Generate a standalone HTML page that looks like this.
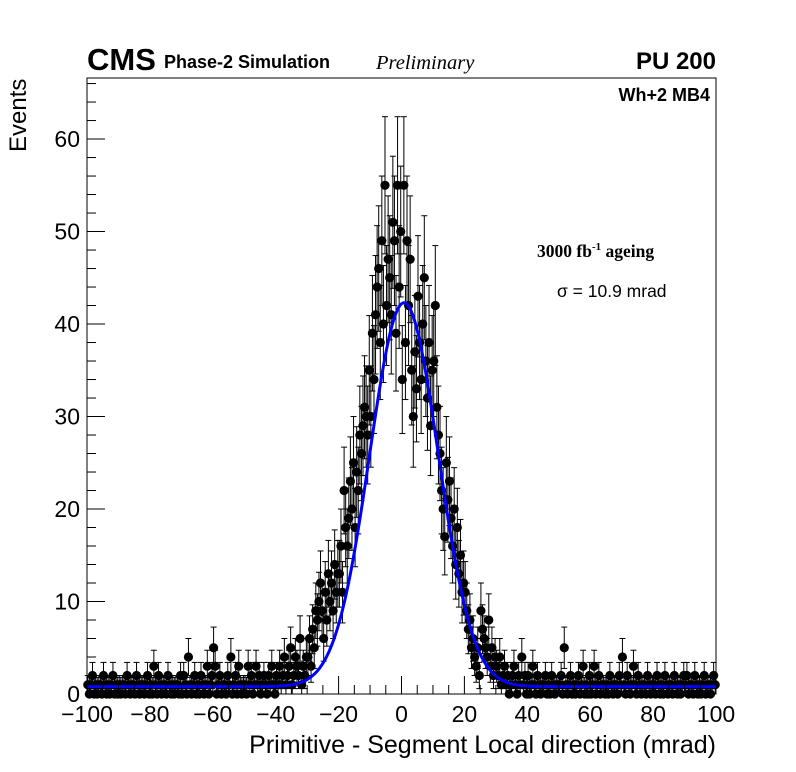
<!DOCTYPE html>
<html><head><meta charset="utf-8"><style>
html,body{margin:0;padding:0;background:#fff;}
svg{display:block;font-family:"Liberation Sans",sans-serif;}
</style></head><body>
<svg id="chart" width="796" height="772" viewBox="0 0 796 772">
<rect x="0" y="0" width="796" height="772" fill="#fff"/>
<g id="marks"></g>
<rect x="87" y="78" width="629" height="616" fill="none" stroke="#000" stroke-width="1"/>
<g id="axes"></g>
<text x="87" y="70" font-size="31" font-weight="bold">CMS</text>
<text x="164" y="68" font-size="18" font-weight="bold">Phase-2 Simulation</text>
<text x="376" y="69" font-size="20.5" font-style="italic" font-family="Liberation Serif, serif">Preliminary</text>
<text x="716" y="69" font-size="24" font-weight="bold" text-anchor="end">PU 200</text>
<text x="710" y="101" font-size="18" font-weight="bold" text-anchor="end">Wh+2 MB4</text>
<text x="537" y="257" font-size="17.5" font-weight="bold" font-family="Liberation Serif, serif">3000 fb<tspan dy="-7" font-size="11">-1</tspan><tspan dy="7"> ageing</tspan></text>
<text x="557" y="297" font-size="17.5">σ = 10.9 mrad</text>
<text x="716" y="753" font-size="25" text-anchor="end">Primitive - Segment Local direction (mrad)</text>
<text transform="translate(26,152) rotate(-90)" font-size="24">Events</text>
</svg>
<script>
const xTicks=[-100,-80,-60,-40,-20,0,20,40,60,80,100];
const xTickLabels=["\u2212100","\u221280","\u221260","\u221240","\u221220","0","20","40","60","80","100"];
const yTicks=[0,10,20,30,40,50,60];
const yTickLabels=["0","10","20","30","40","50","60"];
const binLow=-100, binWidth=0.5;
const counts=[
1,0,1,2,0,1,0,1,1,0,2,1,0,1,0,1,2,0,1,0,
1,0,1,1,0,2,1,0,1,1,0,2,1,0,1,1,0,1,2,0,
1,0,3,1,0,2,1,0,1,1,0,2,1,0,1,0,1,1,0,2,
0,2,1,0,4,1,0,1,2,0,1,0,2,1,0,1,3,0,1,2,
5,3,0,1,2,0,1,1,0,2,1,4,0,1,2,0,3,1,0,1,
1,0,3,1,2,0,1,3,1,2,0,1,2,1,0,2,1,3,1,0,
2,1,3,1,2,4,1,2,3,5,1,2,4,3,2,6,1,3,2,4,
4,6,3,7,5,9,8,10,12,9,6,11,8,13,10,12,9,14,11,13,
13,16,11,22,18,16,19,23,20,25,18,24,22,28,26,29,31,30,28,35,
30,39,34,41,44,46,38,49,40,55,42,47,45,41,51,49,39,55,44,50,
34,55,38,49,42,47,35,30,37,33,43,38,34,40,45,36,32,38,29,35,
36,42,31,28,26,22,20,17,25,21,23,19,16,20,14,18,13,15,11,12,
11,9,7,8,5,6,4,3,5,2,9,7,6,5,4,8,3,5,2,4,
3,2,4,1,2,3,1,2,0,1,2,3,1,0,2,1,4,1,2,0,
2,0,1,3,1,0,2,1,0,1,1,2,0,1,0,2,1,0,1,1,
1,2,0,5,1,0,1,2,0,1,0,1,2,0,1,3,0,1,0,2,
0,1,3,0,1,2,0,1,1,0,1,0,2,1,0,1,1,0,2,1,
4,1,0,2,1,0,1,3,1,0,2,1,0,1,1,0,2,1,0,1,
1,0,2,1,0,1,0,2,1,0,1,1,0,2,1,0,1,0,1,2,
1,2,0,1,1,0,2,1,0,1,0,1,2,0,1,1,0,1,2,1
];
const fitParams=[0.8,41.5,0.8,10.9]; // const, amplitude, mean, sigma

const X0=87,X1=716,Y0=694,Y1=78,xmin=-100,xmax=100,ymin=0,ymax=66.6;
function sx(v){return X0+(v-xmin)/(xmax-xmin)*(X1-X0);}
function sy(v){return Y0-(v-ymin)/(ymax-ymin)*(Y0-Y1);}
const NS="http://www.w3.org/2000/svg";
function mk(tag,attrs,parent){const e=document.createElementNS(NS,tag);for(const k in attrs)e.setAttribute(k,attrs[k]);parent.appendChild(e);return e;}
const marks=document.getElementById('marks'),axes=document.getElementById('axes');

const gErr=mk('g',{stroke:'#000','stroke-width':1},marks);


counts.forEach((n,i)=>{
  const c=binLow+(i+0.5)*binWidth;
  const e=n>0?Math.sqrt(n):0;
  const up=n>0?n+e:1.8, lo=n>0?n-e:0;
  const x=sx(c);
  mk('line',{x1:x,x2:x,y1:sy(up),y2:sy(lo)},gErr);
  mk('line',{x1:x-3,x2:x+3,y1:sy(up),y2:sy(up)},gErr);
  if(lo>0)mk('line',{x1:x-3,x2:x+3,y1:sy(lo),y2:sy(lo)},gErr);
});
const gPts=mk('g',{fill:'#000'},marks);


counts.forEach((n,i)=>{
  const c=binLow+(i+0.5)*binWidth;
  const p=mk('circle',{cx:sx(c),cy:sy(n),r:4.6},gPts);
  
  
});
let d='';
for(let k=0;k<=400;k++){
  const x=xmin+(xmax-xmin)*k/400;
  const y=fitParams[0]+fitParams[1]*Math.exp(-0.5*Math.pow((x-fitParams[2])/fitParams[3],2));
  d+=(k?'L':'M')+sx(x).toFixed(2)+','+sy(y).toFixed(2);
}
const fit=mk('path',{d:d,fill:'none',stroke:'#0000ff','stroke-width':3},marks);



const gT=mk('g',{stroke:'#000','stroke-width':1},axes);


for(let v=-100;v<=100;v+=5){
  const major=(v%20===0);
  const x=sx(v);
  mk('line',{x1:x,x2:x,y1:Y0,y2:Y0-(major?18:9)},gT);
}
for(let v=0;v<=66;v+=2){
  const major=(v%10===0);
  const y=sy(v);
  mk('line',{x1:X0,x2:X0+(major?18:9),y1:y,y2:y},gT);
}
xTicks.forEach((v,i)=>{
  const t=mk('text',{x:sx(v),y:722,'font-size':23,'text-anchor':'middle'},axes);
  t.textContent=xTickLabels[i];
  
  
});
yTicks.forEach((v,i)=>{
  const t=mk('text',{x:80,y:sy(v)+8,'font-size':23,'text-anchor':'end'},axes);
  t.textContent=yTickLabels[i];
  
  
});
</script>
</body></html>
